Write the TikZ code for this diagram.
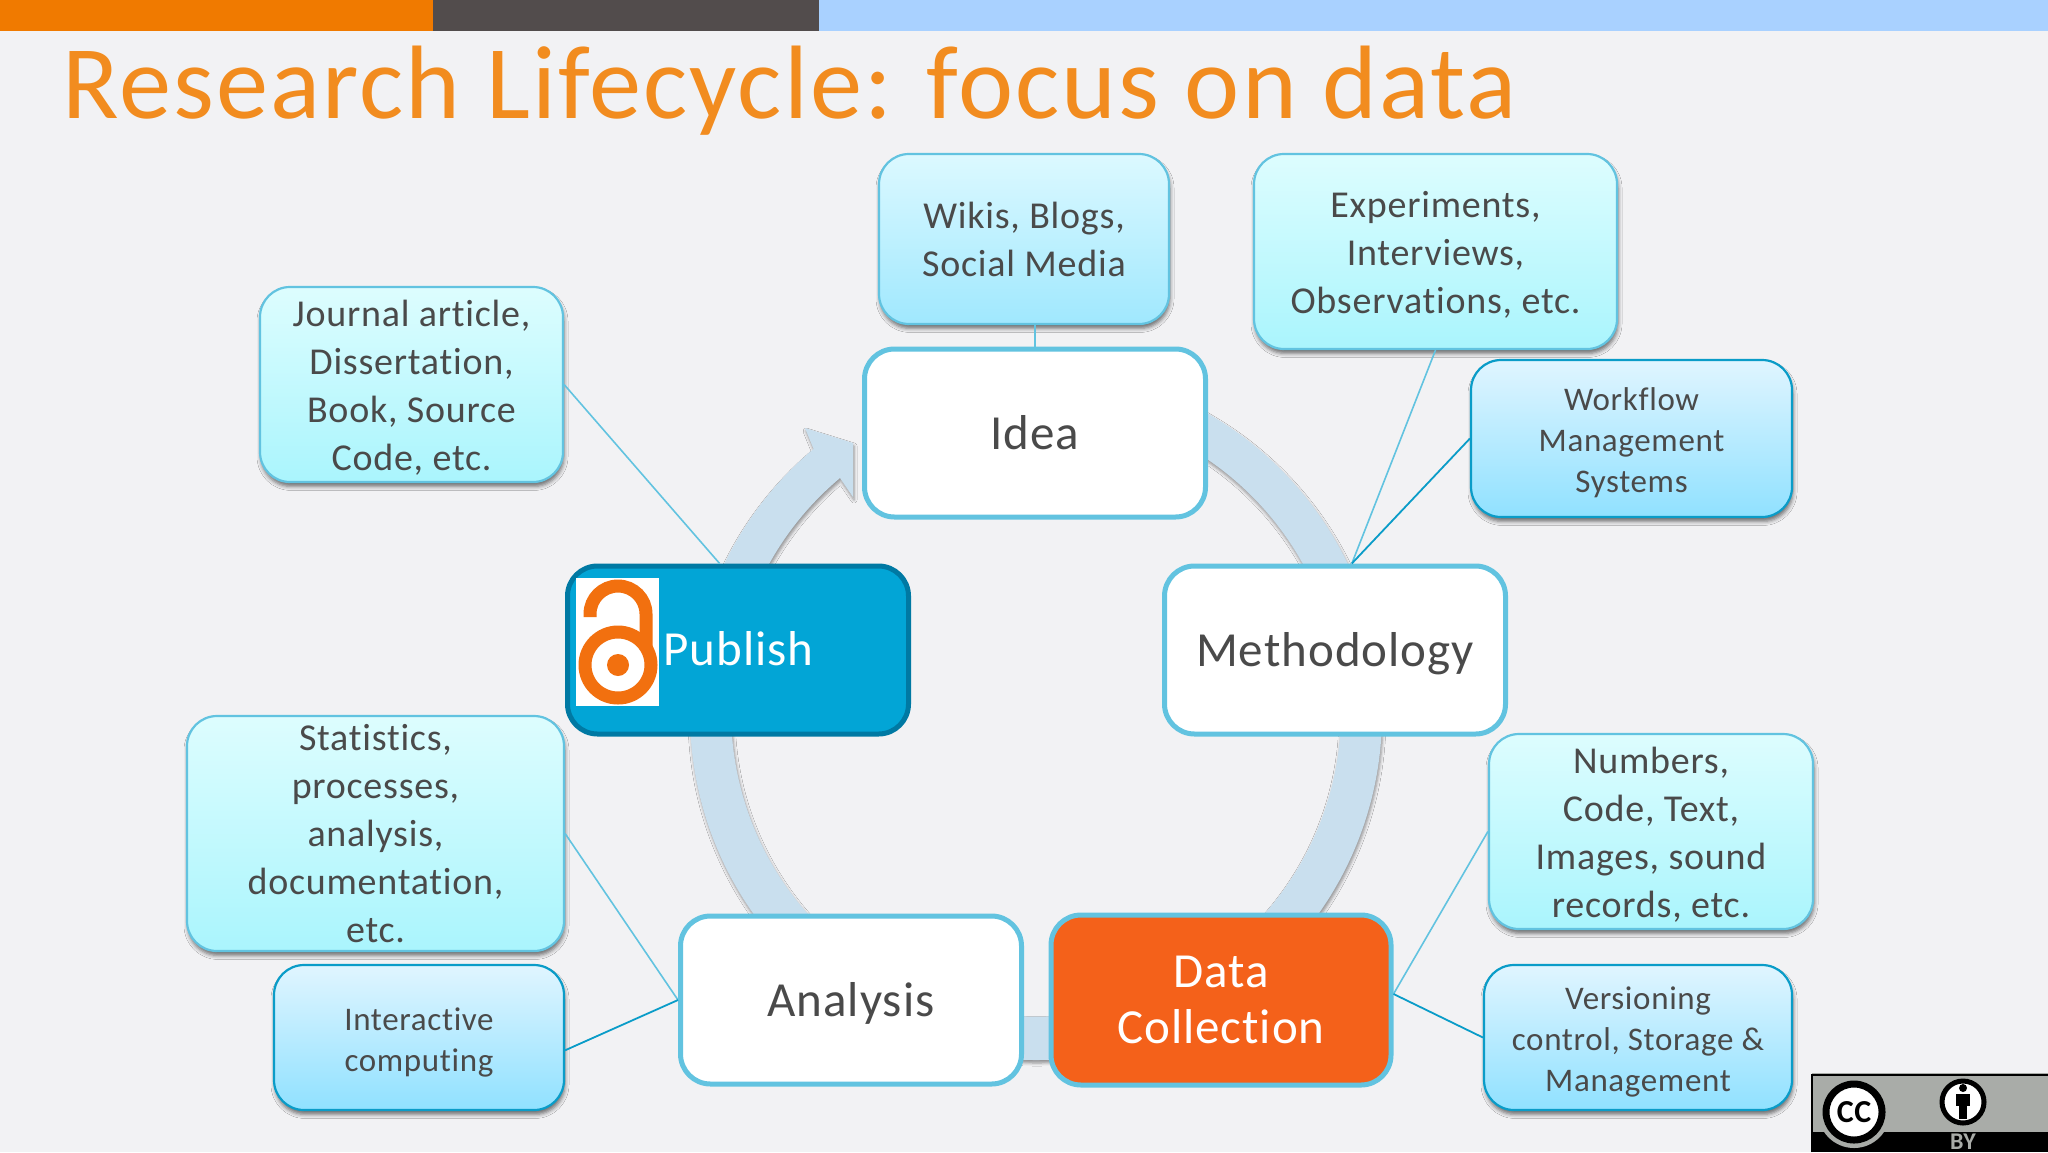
\documentclass[tikz,border=0pt]{standalone}
\usepackage{fontspec}
\setmainfont{Carlito}[LetterSpace=2,Ligatures=NoCommon]
\usetikzlibrary{shadows,shadows.blur}
\definecolor{pageBg}{HTML}{F2F2F4}
\definecolor{ringBlue}{HTML}{C9DFEE}
\definecolor{edgeBlue}{HTML}{62C3E0}
\definecolor{edgeDeep}{HTML}{0A9CC8}
\definecolor{inkGrey}{HTML}{4A4A4A}
\definecolor{oaOrange}{HTML}{F2700F}
\definecolor{barOrange}{HTML}{F07A00}
\definecolor{barDark}{HTML}{524C4C}
\definecolor{barBlue}{HTML}{A9D1FF}
\definecolor{titleOrange}{HTML}{F28C1F}
\definecolor{collectFill}{HTML}{F4611A}
\definecolor{publishFill}{HTML}{02A5D6}
\definecolor{publishEdge}{HTML}{0079A3}
\definecolor{paleTop}{HTML}{DDFDFE}
\definecolor{paleEnd}{HTML}{AAF5FD}
\definecolor{wikiTop}{HTML}{DCF9FF}
\definecolor{wikiEnd}{HTML}{A0E8FE}
\definecolor{deepTop}{HTML}{E0F5FF}
\definecolor{deepEnd}{HTML}{90E1FF}
\definecolor{badgeGrey}{HTML}{A9ACA8}
\newcommand{\lowPale}{\rule{0pt}{16.5pt}}
\newcommand{\lowDeep}{\rule{0pt}{16pt}}
\tikzstyle{softShadow}=[blur shadow={shadow xshift=.5pt,shadow yshift=-2.2pt,shadow blur radius=2pt,shadow opacity=55}]
\tikzstyle{stage}     =[draw=edgeBlue,line width=2.5pt,rounded corners=15pt,fill=white,text=inkGrey,minimum width=170.5pt,minimum height=84pt,inner sep=0pt,align=center,font=\fontsize{24.5}{28}\selectfont]
\tikzstyle{oneLine}   =[text height=16pt,text depth=0pt]
\tikzstyle{toolPale}  =[draw=edgeBlue,line width=1.1pt,rounded corners=15pt,top color=paleTop,bottom color=paleEnd,softShadow,text=inkGrey,inner sep=0pt,align=center,font=\fontsize{19}{24}\selectfont]
\tikzstyle{toolDeep}  =[draw=edgeDeep,line width=1.1pt,rounded corners=15pt,top color=deepTop,bottom color=deepEnd,softShadow,text=inkGrey,inner sep=0pt,align=center,font=\fontsize{16.5}{20.5}\selectfont]
\tikzstyle{linkLight}=[draw=edgeBlue,line width=.8pt]
\tikzstyle{linkDeep} =[draw=edgeDeep,line width=.9pt]
\begin{document}
\begin{tikzpicture}[x=0.5pt,y=-0.5pt]
  \useasboundingbox (0,0) rectangle (2048,1152);
  \fill[pageBg] (0,0) rectangle (2048,1152);
  \fill[barOrange] (0,0) rectangle (433,31);
  \fill[barDark] (433,0) rectangle (819,31);
  \fill[barBlue] (819,0) rectangle (2048,31);
  \node [anchor=base west,inner sep=0pt,text=titleOrange,font=\fontsize{52.2}{52}\selectfont] (title) at (62,118) {Research Lifecycle: focus on data};

  % the cycle, with its head at Idea
  \fill[ringBlue,blur shadow={shadow xshift=.5pt,shadow yshift=-1.5pt,shadow blur radius=1.5pt,shadow opacity=40},shift={(1036,714)}]
    (-90:346) arc[start angle=-90,end angle=230,radius=346]
    -- (805-1036,428-714) -- (853-1036,443-714) -- (853-1036,497-714) -- (840-1036,478-714)
    arc[start angle=230,end angle=-90,radius=305] -- cycle;

  \node [stage,oneLine] (idea) at (1035,433) {Idea};
  \node [stage,oneLine] (methodology) at (1335,650) {Methodology};
  \node [stage,oneLine] (analysis) at (851,1000) {Analysis};
  \node [stage,fill=collectFill,text=white,minimum width=170pt,minimum height=85pt] (collection) at (1221,1000) {Data\\Collection};
  \node [stage,draw=publishEdge,fill=publishFill,text=white] (publish) at (738,650) {};
  \node [anchor=west,inner sep=0pt,text=white,oneLine,font=\fontsize{24.5}{28}\selectfont] (publishText) at (663,649) {Publish};

  \node [toolPale,top color=wikiTop,bottom color=wikiEnd,minimum width=145pt,minimum height=85pt] (wikis) at (1024,239) {Wikis, Blogs,\\Social Media};
  \node [toolPale,minimum width=181.5pt,minimum height=97.5pt] (experiments) at (1435.5,251.5) {\lowPale Experiments,\\Interviews,\\Observations, etc.};
  \node [toolDeep,minimum width=160.5pt,minimum height=78.5pt] (workflow) at (1631.5,438.5) {\lowDeep Workflow\\Management\\Systems};
  \node [toolPale,minimum width=151.5pt,minimum height=97.5pt] (journal) at (411.5,384.5) {\lowPale Journal article,\\Dissertation,\\Book, Source\\Code, etc.};
  \node [toolPale,minimum width=188.5pt,minimum height=117.5pt] (statistics) at (375.5,833.5) {Statistics,\\processes,\\analysis,\\documentation,\\etc.};
  \node [toolDeep,minimum width=145pt,minimum height=72.5pt] (interactive) at (419,1037.5) {\lowDeep Interactive\\computing};
  \node [toolPale,minimum width=162pt,minimum height=97.5pt] (numbers) at (1651,831.5) {\lowPale Numbers,\\Code, Text,\\Images, sound\\records, etc.};
  \node [toolDeep,minimum width=154pt,minimum height=72.5pt] (versioning) at (1638,1037.5) {\lowDeep Versioning\\control, Storage \&\\Management};

  \draw[linkLight] (idea.north) -- (idea.north |- wikis.south);
  \draw[linkLight] (journal.east) -- (publish.102);
  \draw[linkLight] (experiments.south) -- (methodology.79);
  \draw[linkDeep] (workflow.west) -- (methodology.79);
  \draw[linkLight] (statistics.east) -- (analysis.west);
  \draw[linkDeep] (interactive.-5) -- (analysis.west);
  \draw[linkLight] (numbers.west) -- (collection.2);
  \draw[linkDeep] (versioning.west) -- (collection.2);

  % open access lock
  \fill[white] (576,578) rectangle (659,706);
  \draw[oaOrange,line width=6.5pt,fill=white] (618,665) circle (33);
  \fill[oaOrange] (618,665) circle (11);
  \draw[oaOrange,line width=6.5pt] (590,617) -- (590,614) arc[start angle=180,end angle=360,radius=28] -- (646,650);

  % licence badge
  \fill[badgeGrey] (1812,1073) rectangle (2048,1152);
  \fill[black] (1812,1132) rectangle (2048,1152);
  \draw[black,line width=1pt] (1812,1152) -- (1812,1075) -- (2048,1075);
  \fill[badgeGrey] (1854,1112) circle (36);
  \draw[black,line width=3.5pt,fill=white] (1854,1112) circle (28);
  \node [inner sep=0pt,font=\fontsize{16}{16}\bfseries\selectfont] (ccText) at (1854,1112) {CC};
  \draw[black,line width=2.5pt,fill=white] (1963,1102) circle (21);
  \fill[black] (1963,1088) circle (4);
  \fill[black] (1956,1094) rectangle (1970,1106);
  \fill[black] (1959,1106) rectangle (1967,1119);
  \node [inner sep=0pt,text=badgeGrey,font=\fontsize{12}{12}\bfseries\selectfont] (byText) at (1963,1142) {BY};
\end{tikzpicture}
\end{document}
